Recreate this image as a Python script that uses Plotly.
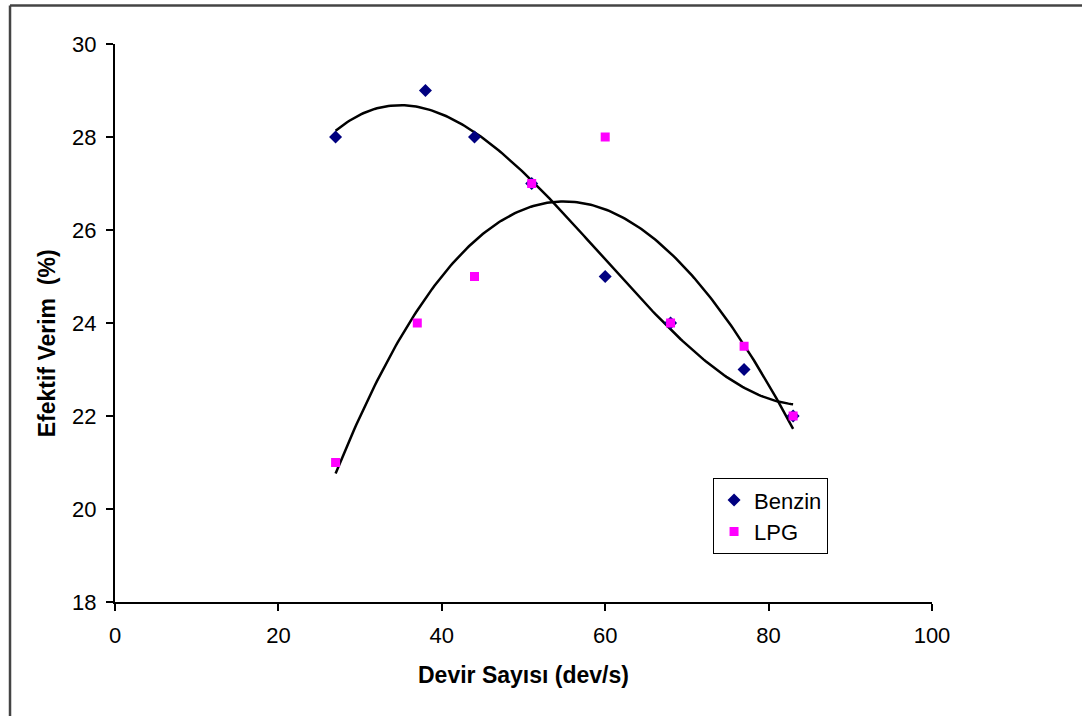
import numpy as np
import plotly.graph_objects as go

# Measured efficiency values
benzin_x = [27, 38, 44, 51, 60, 68, 77, 83]
benzin_y = [28, 29, 28, 27, 25, 24, 23, 22]
lpg_x = [27, 37, 44, 51, 60, 68, 77, 83]
lpg_y = [21, 24, 25, 27, 28, 24, 23.5, 22]

x_ticks = [0, 20, 40, 60, 80, 100]
y_ticks = [18, 20, 22, 24, 26, 28, 30]

FONT = "Liberation Sans, Arial, sans-serif"


def cubic_trend(xs, ys, n=200):
    coef = np.polyfit(xs, ys, 3)
    xx = np.linspace(min(xs), max(xs), n)
    return xx, np.polyval(coef, xx)


fig = go.Figure()

# Third-order polynomial trendlines
for xs, ys in ((benzin_x, benzin_y), (lpg_x, lpg_y)):
    tx, ty = cubic_trend(xs, ys)
    fig.add_trace(go.Scatter(x=tx, y=ty, mode="lines",
                             line=dict(color="black", width=2.5),
                             showlegend=False, hoverinfo="skip"))

fig.add_trace(go.Scatter(x=benzin_x, y=benzin_y, mode="markers", name="Benzin",
                         marker=dict(symbol="diamond", color="#000080", size=10)))
fig.add_trace(go.Scatter(x=lpg_x, y=lpg_y, mode="markers", name="LPG",
                         marker=dict(symbol="square", color="#FF00FF", size=9)))

axis_common = dict(showgrid=False, zeroline=False, showline=True, linecolor="black",
                   linewidth=2, ticks="outside", ticklen=7, tickwidth=1.5,
                   tickcolor="black", tickfont=dict(family=FONT, size=22, color="black"))

fig.update_xaxes(range=[0, 100], tickvals=x_ticks, ticklabelstandoff=6, **axis_common)
fig.update_yaxes(range=[18, 30], tickvals=y_ticks, ticklabelstandoff=5, **axis_common)

fig.update_layout(
    width=1082, height=716,
    margin=dict(l=115, r=150, t=44, b=114),
    paper_bgcolor="white", plot_bgcolor="white",
    font=dict(family=FONT, color="black"),
    legend=dict(x=0.732, y=0.222, xanchor="left", yanchor="top",
                bordercolor="black", borderwidth=1, bgcolor="white",
                itemwidth=30, font=dict(family=FONT, size=22, color="black"),
                tracegroupgap=4),
    annotations=[
        dict(text="<b>Devir Sayısı (dev/s)</b>", xref="paper", yref="paper",
             x=0.5, y=-0.13, xanchor="center", yanchor="middle", showarrow=False,
             font=dict(family=FONT, size=23, color="black")),
        dict(text="<b>Efektif Verim  (%)</b>", xref="paper", yref="paper",
             x=-0.083, y=0.464, xanchor="center", yanchor="middle", textangle=-90,
             showarrow=False, font=dict(family=FONT, size=23, color="black")),
    ],
    shapes=[
        # chart frame (top and left edges)
        dict(type="line", xref="paper", yref="paper", x0=-0.1285, x1=1.2,
             y0=1.069, y1=1.069, line=dict(color="#444444", width=2.5)),
        dict(type="line", xref="paper", yref="paper", x0=-0.1285, x1=-0.1285,
             y0=1.069, y1=-0.21, line=dict(color="#444444", width=2.5)),
    ],
)

fig.write_html("out.html")
